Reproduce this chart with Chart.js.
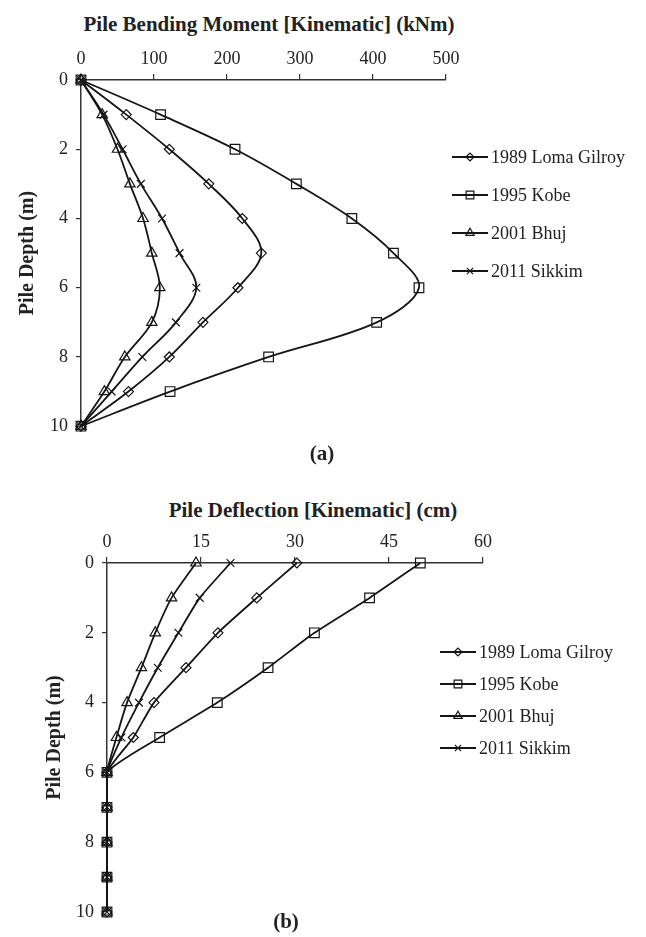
<!DOCTYPE html>
<html>
<head>
<meta charset="utf-8">
<script src="https://cdn.jsdelivr.net/npm/chart.js@4.4.0/dist/chart.umd.min.js"></script>
<style>
  body { margin: 0; background: #fff; }
  #wrap { position: relative; width: 646px; height: 937px; }
  canvas { position: absolute; left: 0; }
  .txt {
    position: absolute;
    transform: translate(-50%, -50%);
    font-family: "Liberation Serif", "Times New Roman", serif;
    font-weight: bold;
    color: #222;
    white-space: nowrap;
    line-height: 1;
  }
</style>
</head>
<body>
<div id="wrap">
  <div class="txt" style="left:269px; top:24px; font-size:21px;">Pile Bending Moment [Kinematic] (kNm)</div>
  <canvas id="chartA" width="646" height="445" style="top:0"></canvas>
  <div class="txt" style="left:322px; top:453px; font-size:21px;">(a)</div>

  <div class="txt" style="left:313px; top:510px; font-size:21px;">Pile Deflection [Kinematic] (cm)</div>
  <canvas id="chartB" width="646" height="467" style="top:470px"></canvas>
  <div class="txt" style="left:286px; top:921px; font-size:21px;">(b)</div>
</div>

<script>
  // --------------------
  // Data
  // --------------------
  const depths = [0, 1, 2, 3, 4, 5, 6, 7, 8, 9, 10];
  const seriesNames = ["1989 Loma Gilroy", "1995 Kobe", "2001 Bhuj", "2011 Sikkim"];
  const markerStyles = ["rectRot", "rect", "triangle", "crossRot"];
  const markerRadius = [5, 6.8, 6, 5.5];

  // bending moment (kNm)
  const momentLoma = [0, 62, 121, 175, 221, 247, 215, 167, 121, 65, 0];
  const momentKobe = [0, 109, 211, 295, 371, 428, 463, 405, 257, 122, 0];
  const momentBhuj = [0, 29, 50, 67, 85, 97, 108, 97, 60, 32, 0];
  const momentSikkim = [0, 31, 57, 82, 111, 135, 158, 130, 84, 42, 0];

  // deflection (cm)
  const deflLoma = [30.3, 23.9, 17.7, 12.6, 7.5, 4.2, 0, 0, 0, 0, 0];
  const deflKobe = [50.0, 41.9, 33.1, 25.7, 17.6, 8.4, 0, 0, 0, 0, 0];
  const deflBhuj = [14.2, 10.3, 7.7, 5.5, 3.2, 1.5, 0, 0, 0, 0, 0];
  const deflSikkim = [19.7, 14.8, 11.4, 8.1, 5.1, 2.3, 0, 0, 0, 0, 0];

  const momentTicks = [0, 100, 200, 300, 400, 500];
  const deflTicks = [0, 15, 30, 45, 60];
  const depthTicks = [0, 2, 4, 6, 8, 10];

  const FONT = "'Liberation Serif', 'Times New Roman', serif";
  const INK = "#151515";

  // --------------------
  // Helpers
  // --------------------
  function buildDatasets(seriesList, tension) {
    return seriesList.map((vals, i) => ({
      label: seriesNames[i],
      data: depths.map((d, k) => ({ x: vals[k], y: d })),
      showLine: true,
      clip: false,
      tension: tension,
      borderColor: INK,
      borderWidth: 1.8,
      pointStyle: markerStyles[i],
      pointRadius: markerRadius[i],
      pointBorderColor: INK,
      pointBorderWidth: 1.2,
      pointBackgroundColor: "rgba(0,0,0,0)",
    }));
  }

  // legend drawn as line + marker, like the original figure
  const lineLegend = {
    id: "lineLegend",
    afterDraw(chart, args, opts) {
      const ctx = chart.ctx;
      ctx.save();
      chart.data.datasets.forEach((ds, i) => {
        const y = opts.y0 + i * opts.dy;
        ctx.strokeStyle = INK;
        ctx.lineWidth = 2;
        ctx.beginPath();
        ctx.moveTo(opts.x0, y);
        ctx.lineTo(opts.x0 + opts.len, y);
        ctx.stroke();
        ctx.lineWidth = 1.2;
        ctx.fillStyle = "rgba(0,0,0,0)";
        Chart.helpers.drawPoint(ctx, {
          pointStyle: ds.pointStyle,
          radius: ds.pointRadius * 0.8,
          rotation: 0,
          borderWidth: 1.2,
        }, opts.x0 + opts.len / 2, y);
        ctx.fillStyle = "#222";
        ctx.font = "18px " + FONT;
        ctx.textBaseline = "middle";
        ctx.textAlign = "left";
        ctx.fillText(ds.label, opts.x0 + opts.len + 3, y + 1);
      });
      ctx.restore();
    },
  };

  function makeChart(canvasId, seriesList, cfg) {
    const ctx = document.getElementById(canvasId).getContext("2d");
    return new Chart(ctx, {
      type: "scatter",
      data: { datasets: buildDatasets(seriesList, cfg.tension) },
      options: {
        responsive: false,
        devicePixelRatio: 1,
        animation: false,
        layout: { padding: { left: 0, top: 0, right: cfg.padRight, bottom: cfg.padBottom } },
        plugins: {
          legend: { display: false },
          tooltip: { enabled: false },
          lineLegend: cfg.legend,
        },
        scales: {
          x: {
            type: "linear",
            position: "top",
            min: cfg.xTicks[0],
            max: cfg.xTicks[cfg.xTicks.length - 1],
            afterBuildTicks: (scale) => { scale.ticks = cfg.xTicks.map((v) => ({ value: v })); },
            afterFit: (scale) => { scale.height = cfg.xHeight; },
            ticks: { color: "#222", font: { family: FONT, size: 18 }, padding: 4, maxRotation: 0 },
            grid: { drawOnChartArea: false, drawTicks: true, tickLength: 6, color: "#333", lineWidth: 1.2 },
            border: { display: true, color: "#333", width: 1.5 },
          },
          y: {
            type: "linear",
            reverse: true,
            min: 0,
            max: 10,
            afterBuildTicks: (scale) => { scale.ticks = depthTicks.map((v) => ({ value: v })); },
            afterFit: (scale) => { scale.width = cfg.yWidth; },
            ticks: { color: "#222", font: { family: FONT, size: 18 }, padding: 8 },
            grid: { drawOnChartArea: false, drawTicks: true, tickLength: 5, color: "#333", lineWidth: 1.2 },
            border: { display: true, color: "#333", width: 1.5 },
            title: {
              display: true,
              text: "Pile Depth (m)",
              color: "#222",
              font: { family: FONT, size: 20, weight: "bold" },
              padding: { top: cfg.yTitlePad, bottom: 0 },
            },
          },
        },
      },
      plugins: [lineLegend],
    });
  }

  // --------------------
  // (a) Bending moment
  // --------------------
  makeChart("chartA", [momentLoma, momentKobe, momentBhuj, momentSikkim], {
    tension: 0.35,
    xTicks: momentTicks,
    xHeight: 80,
    yWidth: 81,
    padRight: 200,
    padBottom: 18,
    yTitlePad: 16,
    legend: { x0: 452, len: 36, y0: 157, dy: 38 },
  });

  // --------------------
  // (b) Deflection
  // --------------------
  makeChart("chartB", [deflLoma, deflKobe, deflBhuj, deflSikkim], {
    tension: 0.2,
    xTicks: deflTicks,
    xHeight: 93,
    yWidth: 107,
    padRight: 163,
    padBottom: 25,
    yTitlePad: 43,
    legend: { x0: 440, len: 36, y0: 182, dy: 32 },
  });
</script>
</body>
</html>
